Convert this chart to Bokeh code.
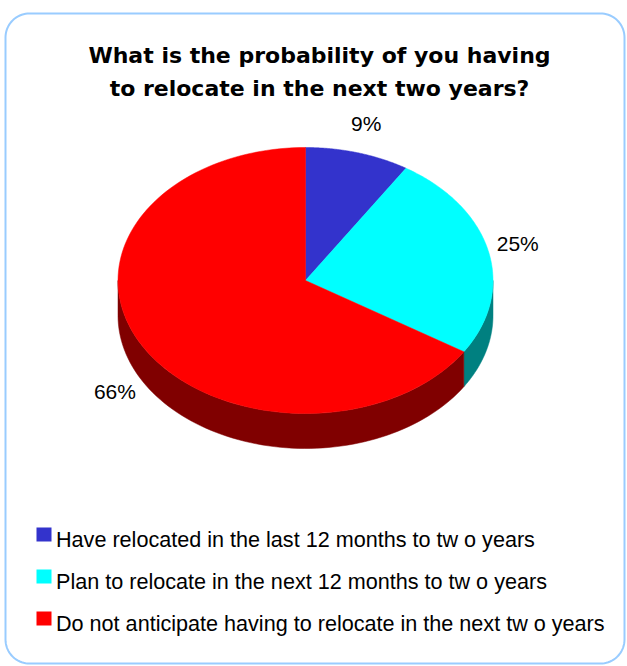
import numpy as np
from bokeh.plotting import figure
from bokeh.models import Range1d, ColumnDataSource
from bokeh.core.properties import value
from bokeh.embed import file_html
from bokeh.resources import INLINE

# ---- data ----
title_lines = ["What is the probability of you having",
               "to relocate in the next two years?"]
categories = ["Have relocated in the last 12 months to tw o years",
              "Plan to relocate in the next 12 months to tw o years",
              "Do not anticipate having to relocate in the next tw o years"]
shares = [9, 25, 66]
top_colors = ["#3333CC", "#00FFFF", "#FF0000"]
side_colors = ["#1A1A66", "#008080", "#800000"]
labels = [f"{v}%" for v in shares]

W, H = 627, 666
FONT = "Liberation Sans"

p = figure(width=W, height=H, x_range=Range1d(0, W), y_range=Range1d(H, 0),
           output_backend="svg", toolbar_location=None, min_border=0,
           x_axis_location=None, y_axis_location=None)
p.grid.visible = False
p.outline_line_color = None
p.background_fill_color = "white"
p.border_fill_color = "white"

# ---- rounded frame ----
x0, x1, y0, y1, r = 5, 624, 13, 663, 24
def arc(cx, cy, a0, a1):
    t = np.radians(np.linspace(a0, a1, 20))
    return list(cx + r * np.cos(t)), list(cy + r * np.sin(t))
fx, fy = [], []
for (ccx, ccy, a0, a1) in [(x1 - r, y0 + r, -90, 0), (x1 - r, y1 - r, 0, 90),
                           (x0 + r, y1 - r, 90, 180), (x0 + r, y0 + r, 180, 270)]:
    ax, ay = arc(ccx, ccy, a0, a1)
    fx += ax; fy += ay
fx.append(fx[0]); fy.append(fy[0])
p.line(fx, fy, line_color="#99CCFF", line_width=2)

# ---- 3D pie ----
cx, cy, rx, ry, depth = 305, 280, 187.5, 133, 35
total = float(sum(shares))
bounds = np.concatenate([[0], np.cumsum(shares) / total * 360.0])

def pt(t, dy=0.0):
    tr = np.radians(t)
    return cx + rx * np.sin(tr), cy - ry * np.cos(tr) + dy

side_xs, side_ys, side_c = [], [], []
top_xs, top_ys, top_c = [], [], []
for i in range(len(shares)):
    a, b = bounds[i], bounds[i + 1]
    lo, hi = max(a, 90), min(b, 270)
    if lo < hi:
        ts = np.linspace(lo, hi, 80)
        tx, ty = pt(ts)
        bx, by = pt(ts[::-1], depth)
        side_xs.append(list(tx) + list(bx))
        side_ys.append(list(ty) + list(by))
        side_c.append(side_colors[i])
    ts = np.linspace(a, b, 120)
    tx, ty = pt(ts)
    top_xs.append([cx] + list(tx))
    top_ys.append([cy] + list(ty))
    top_c.append(top_colors[i])

p.patches("xs", "ys", source=ColumnDataSource(dict(xs=side_xs, ys=side_ys, c=side_c)),
          fill_color="c", line_color="c", line_width=0.5)
p.patches("xs", "ys", source=ColumnDataSource(dict(xs=top_xs, ys=top_ys, c=top_c)),
          fill_color="c", line_color="c", line_width=0.5)

# ---- percentage labels (placed just outside the slice edge) ----
mids = (bounds[:-1] + bounds[1:]) / 2
lx, ly = [], []
for m in mids:
    tr = np.radians(m)
    ex, ey = pt(m, depth if np.cos(tr) < 0 else 0.0)
    lx.append(ex + 30 * np.sin(tr))
    ly.append(ey - 28 * np.cos(tr) - 2)
p.text(lx, ly, text=labels, text_font=value(FONT), text_font_size="21px",
       text_align="center", text_baseline="middle", text_color="black")

# ---- title ----
p.text([319, 319], [54.5, 88], text=title_lines, text_font=value("DejaVu Sans"),
       text_font_size="22px", text_font_style="bold",
       text_align="center", text_baseline="alphabetic", text_color="black")

# ---- legend ----
rows = np.array([539, 581, 623])
p.rect([43.5] * 3, rows - 5, width=15, height=14, fill_color=top_colors, line_color=None)
p.text([55.5] * 3, rows, text=categories, text_font=value(FONT), text_font_size="21.6px",
       text_align="left", text_baseline="alphabetic", text_color="black")

open("out.html", "w").write(file_html(p, INLINE))
